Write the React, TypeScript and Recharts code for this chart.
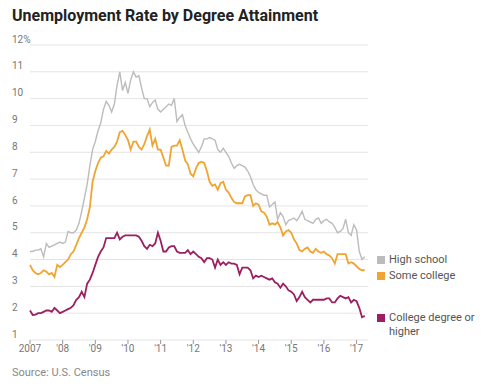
import { LineChart, Line, XAxis, YAxis, CartesianGrid } from 'recharts';

const START_YEAR = 2007;

// monthly rates, Jan 2007 - Apr 2017
const highSchool = [
  4.3, 4.3, 4.35, 4.35, 4.4, 4.1, 4.6, 4.45, 4.5, 4.55, 4.6, 4.65,
  4.6, 4.65, 5.05, 5.0, 5.0, 5.1, 5.35, 5.8, 6.3, 6.8, 7.5, 8.1,
  8.4, 8.8, 9.1, 9.6, 9.9, 9.75, 9.5, 9.8, 10.5, 11.0, 10.3, 10.6,
  10.2, 10.7, 11.0, 10.8, 10.85, 10.4, 10.0, 10.0, 9.7, 9.85, 9.95, 9.6,
  9.5, 9.6, 9.7, 9.8, 9.75, 10.0, 9.15, 9.3, 9.4, 9.0, 8.75, 8.5,
  8.3, 8.15, 8.0, 8.2, 8.5, 8.5, 8.55, 8.5, 8.45, 8.1, 8.0, 8.15,
  8.0, 7.85, 7.6, 7.4, 7.5, 7.55, 7.5, 7.45, 7.3, 7.1, 6.8, 6.6,
  6.5, 6.45, 6.4, 6.4, 5.96, 6.05, 6.15, 5.5, 5.75, 5.6, 5.3, 5.45,
  5.5, 5.55, 5.45, 5.6, 5.8, 5.5, 5.45, 5.4, 5.35, 5.5, 5.55, 5.35,
  5.45, 5.5, 5.4, 5.35, 5.2, 5.0, 5.05, 5.15, 5.5, 5.0, 4.9, 5.3,
  5.1, 4.3, 4.0, 4.1,
];

const someCollege = [
  3.8, 3.6, 3.5, 3.45, 3.5, 3.6, 3.55, 3.45, 3.5, 3.35, 3.8, 3.72,
  3.8, 3.9, 4.0, 4.2, 4.3, 4.55, 4.8, 5.0, 5.2, 5.5, 5.95, 6.9,
  7.3, 7.6, 7.8, 7.85, 8.05, 7.95, 8.1, 8.2, 8.4, 8.75, 8.8, 8.65,
  8.45, 8.1, 8.4, 8.4, 8.2, 8.1, 8.3, 8.6, 8.85, 8.25, 8.5, 8.1,
  8.1, 7.8, 7.5, 7.5, 8.2, 8.25, 8.25, 8.45, 8.1, 7.7, 7.55, 7.2,
  7.1, 7.4, 7.6, 7.65, 7.6, 7.3, 6.9, 6.75, 6.8, 6.6, 6.85, 6.9,
  6.6, 6.5, 6.3, 6.15, 6.1, 6.1, 6.1, 6.35, 6.4, 6.4, 6.0, 6.1,
  6.05, 5.8, 5.75, 5.6, 5.3, 5.35, 5.3, 5.4, 5.2, 4.9, 5.05, 5.1,
  5.0, 4.75, 4.6, 4.35, 4.3, 4.4, 4.45, 4.3, 4.25, 4.4, 4.3, 4.25,
  4.3, 4.2, 4.15, 4.05, 3.85, 4.2, 4.2, 4.2, 4.2, 3.85, 3.9, 3.85,
  3.75, 3.65, 3.6, 3.6,
];

const collegeDegree = [
  2.1, 1.93, 1.95, 2.0, 2.0, 2.05, 2.1, 2.1, 2.05, 2.2, 2.1, 2.0,
  2.05, 2.1, 2.15, 2.2, 2.3, 2.5, 2.6, 2.8, 2.6, 3.1, 3.25, 3.5,
  3.8, 4.1, 4.3, 4.45, 4.8, 4.8, 4.8, 4.8, 5.0, 4.75, 4.85, 4.9,
  4.9, 4.9, 4.9, 4.9, 4.85, 4.7, 4.5, 4.4, 4.55, 4.5, 4.6, 5.0,
  4.7, 4.3, 4.3, 4.45, 4.5, 4.5, 4.3, 4.25, 4.25, 4.25, 4.35, 4.2,
  4.3, 4.2, 4.1, 4.05, 3.9, 4.05, 4.05, 4.0, 3.7, 4.0, 3.8, 3.9,
  3.8, 3.9, 3.85, 3.85, 3.8, 3.45, 3.7, 3.7, 3.7, 3.6, 3.3, 3.4,
  3.35, 3.4, 3.35, 3.3, 3.25, 3.3, 3.15, 3.1, 2.95, 3.1, 3.0, 2.85,
  2.8, 2.7, 2.45, 2.6, 2.8, 2.6, 2.5, 2.4, 2.5, 2.5, 2.5, 2.5,
  2.5, 2.55, 2.55, 2.4, 2.4, 2.55, 2.65, 2.6, 2.55, 2.6, 2.4, 2.5,
  2.45, 2.2, 1.85, 1.9,
];

const yearTicks = [2007, 2008, 2009, 2010, 2011, 2012, 2013, 2014, 2015, 2016, 2017];
const yearLabels = ['2007', "'08", "'09", "'10", "'11", "'12", "'13", "'14", "'15", "'16", "'17"];
const rateTicks = [1, 2, 3, 4, 5, 6, 7, 8, 9, 10, 11, 12];

const data = highSchool.map((v, i) => ({
  t: START_YEAR + i / 12,
  highSchool: v,
  someCollege: someCollege[i],
  college: collegeDegree[i],
}));

const FONT = 'Roboto, "Noto Sans", sans-serif';
const GRAY = '#bcbcbc';
const ORANGE = '#f0a431';
const PURPLE = '#9c1f62';

function YTick({ y, payload }: any) {
  const label = payload.value === 12 ? '12%' : String(payload.value);
  return (
    <text x={12} y={y - 5} fontSize={10} fill="#777" fontFamily={FONT} dominantBaseline="middle">
      {label}
    </text>
  );
}

function XTick({ x, y, payload }: any) {
  const idx = yearTicks.indexOf(payload.value);
  return (
    <text x={x} y={y + 3} fontSize={10} fill="#777" fontFamily={FONT} textAnchor="middle" dominantBaseline="middle">
      {yearLabels[idx]}
    </text>
  );
}

const legendItems = [
  { label: 'High school', color: GRAY, top: 253 },
  { label: 'Some college', color: ORANGE, top: 269 },
  { label: 'College degree or\nhigher', color: PURPLE, top: 311 },
];

export default function App() {
  return (
    <div style={{ position: 'absolute', left: 0, top: 0, width: 500, height: 390, background: '#fff', fontFamily: FONT }}>
      <div style={{ position: 'absolute', left: 12, top: 6, fontSize: 16, fontWeight: 700, color: '#222', whiteSpace: 'nowrap' }}>
        Unemployment Rate by Degree Attainment
      </div>
      <LineChart width={500} height={390} data={data} margin={{ top: 45, right: 132, bottom: 30, left: 0 }}>
        <CartesianGrid vertical={false} stroke="#e4e4e4" />
        <XAxis
          dataKey="t"
          type="number"
          domain={[2007, 2017.35]}
          ticks={yearTicks}
          interval={0}
          height={20}
          axisLine={false}
          tickLine={{ stroke: '#999' }}
          tickSize={4}
          tick={<XTick />}
        />
        <YAxis
          type="number"
          domain={[1, 12]}
          ticks={rateTicks}
          interval={0}
          width={30}
          axisLine={false}
          tickLine={false}
          tick={<YTick />}
        />
        <Line type="linear" dataKey="highSchool" stroke={GRAY} strokeWidth={1.4} dot={false} isAnimationActive={false} />
        <Line type="linear" dataKey="someCollege" stroke={ORANGE} strokeWidth={1.8} dot={false} isAnimationActive={false} />
        <Line type="linear" dataKey="college" stroke={PURPLE} strokeWidth={1.8} dot={false} isAnimationActive={false} />
      </LineChart>
      {legendItems.map((item) => (
        <div key={item.label} style={{ position: 'absolute', left: 377, top: item.top, display: 'flex', alignItems: 'flex-start' }}>
          <div style={{ width: 8, height: 8, background: item.color, marginTop: 3, marginRight: 4 }} />
          <div style={{ fontSize: 11, lineHeight: '14px', color: '#555', whiteSpace: 'pre' }}>{item.label}</div>
        </div>
      ))}
      <div style={{ position: 'absolute', left: 12, top: 366, fontSize: 11, color: '#888' }}>Source: U.S. Census</div>
    </div>
  );
}
